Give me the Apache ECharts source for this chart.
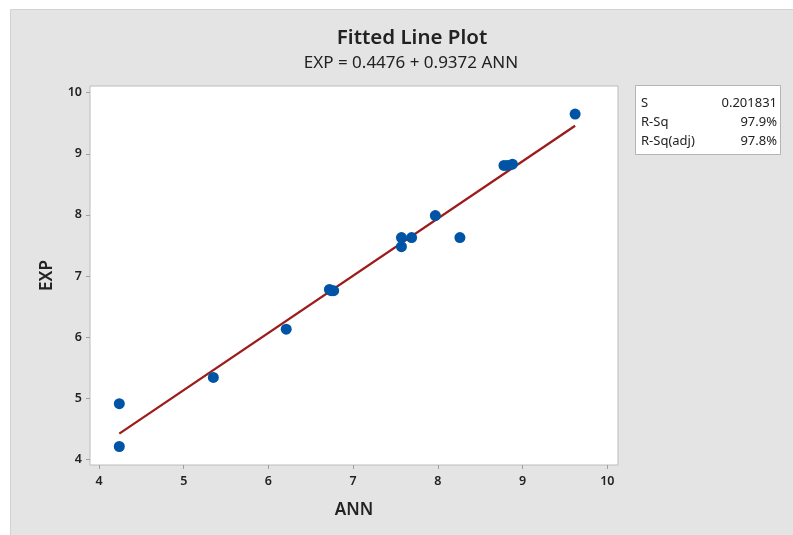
<!DOCTYPE html>
<html>
<head>
<meta charset="utf-8">
<script src="https://cdn.jsdelivr.net/npm/echarts@6/dist/echarts.min.js"></script>
<style>
html,body{margin:0;padding:0;background:#ffffff;}
#c{width:793px;height:535px;}
</style>
</head>
<body>
<div id="c"></div>
<script>
var annValues = [4.24, 4.24, 5.35, 6.21, 6.72, 6.74, 6.77, 7.57, 7.57, 7.69, 7.97, 8.26, 8.78, 8.82, 8.88, 9.62];
var expValues = [4.91, 4.21, 5.34, 6.13, 6.78, 6.76, 6.76, 7.63, 7.48, 7.63, 7.99, 7.63, 8.81, 8.81, 8.83, 9.65];
var fitX = [4.24, 9.62];
var fitY = [4.42, 9.46];
var xTicks = [4, 5, 6, 7, 8, 9, 10];
var yTicks = [4, 5, 6, 7, 8, 9, 10];
var titleText = 'Fitted Line Plot';
var subtitleText = 'EXP = 0.4476 + 0.9372 ANN';
var statNames = ['S', 'R-Sq', 'R-Sq(adj)'];
var statValues = ['0.201831', '97.9%', '97.8%'];

var FONT = '"Noto Sans", "Open Sans", sans-serif';
var chart = echarts.init(document.getElementById('c'), null, {renderer: 'canvas'});

var points = annValues.map(function (x, i) { return [x, expValues[i]]; });
var fitLine = fitX.map(function (x, i) { return [x, fitY[i]]; });

var graphics = [
  {type: 'rect', z: -10, shape: {x: 10.5, y: 9.5, width: 800, height: 540},
   style: {fill: '#e4e4e4', stroke: '#d2d2d2', lineWidth: 1}},
  {type: 'rect', z: 10, shape: {x: 635.5, y: 85.5, width: 145, height: 69},
   style: {fill: '#ffffff', stroke: '#b4b4b4', lineWidth: 1}}
];
statNames.forEach(function (n, i) {
  var y = 103 + i * 19.3;
  graphics.push({type: 'text', z: 11, x: 641, y: y,
    style: {text: n, font: '13px ' + FONT, fill: '#222', textVerticalAlign: 'middle'}});
  graphics.push({type: 'text', z: 11, x: 777, y: y,
    style: {text: statValues[i], font: '13px ' + FONT, fill: '#222', textAlign: 'right', textVerticalAlign: 'middle'}});
});

chart.setOption({
  backgroundColor: '#ffffff',
  animation: false,
  graphic: graphics,
  title: [
    {text: titleText, left: 407, top: 23, textAlign: 'center',
     textStyle: {fontFamily: FONT, fontSize: 20.5, fontWeight: 600, color: '#222'}},
    {text: subtitleText, left: 406, top: 50, textAlign: 'center',
     textStyle: {fontFamily: FONT, fontSize: 17, fontWeight: 'normal', color: '#222'}}
  ],
  grid: {left: 90, top: 86, right: 175, bottom: 70, show: true,
         backgroundColor: '#ffffff', borderColor: '#bcbcbc', borderWidth: 1},
  xAxis: {
    type: 'value', min: 3.894, max: 10.126,
    name: 'ANN', nameLocation: 'middle', nameGap: 37,
    nameTextStyle: {fontFamily: FONT, fontSize: 17, fontWeight: 600, color: '#222'},
    axisLine: {show: false},
    axisTick: {show: true, customValues: xTicks, length: 4, lineStyle: {color: '#a0a0a0'}},
    axisLabel: {customValues: xTicks, fontFamily: FONT, fontSize: 12.5, fontWeight: 600, color: '#222', margin: 10},
    splitLine: {show: false}
  },
  yAxis: {
    type: 'value', min: 3.907, max: 10.11,
    name: 'EXP', nameLocation: 'middle', nameGap: 34,
    nameTextStyle: {fontFamily: FONT, fontSize: 17, fontWeight: 600, color: '#222'},
    axisLine: {show: false},
    axisTick: {show: true, customValues: yTicks, length: 4, lineStyle: {color: '#a0a0a0'}},
    axisLabel: {customValues: yTicks, fontFamily: FONT, fontSize: 12.5, fontWeight: 600, color: '#222', margin: 8},
    splitLine: {show: false}
  },
  series: [
    {type: 'line', data: fitLine, symbol: 'none', z: 2,
     lineStyle: {color: '#9c1c1c', width: 2.3}},
    {type: 'scatter', data: points, symbol: 'circle', symbolSize: 11, z: 3,
     itemStyle: {color: '#0054a6', opacity: 1}}
  ]
});
</script>
</body>
</html>
